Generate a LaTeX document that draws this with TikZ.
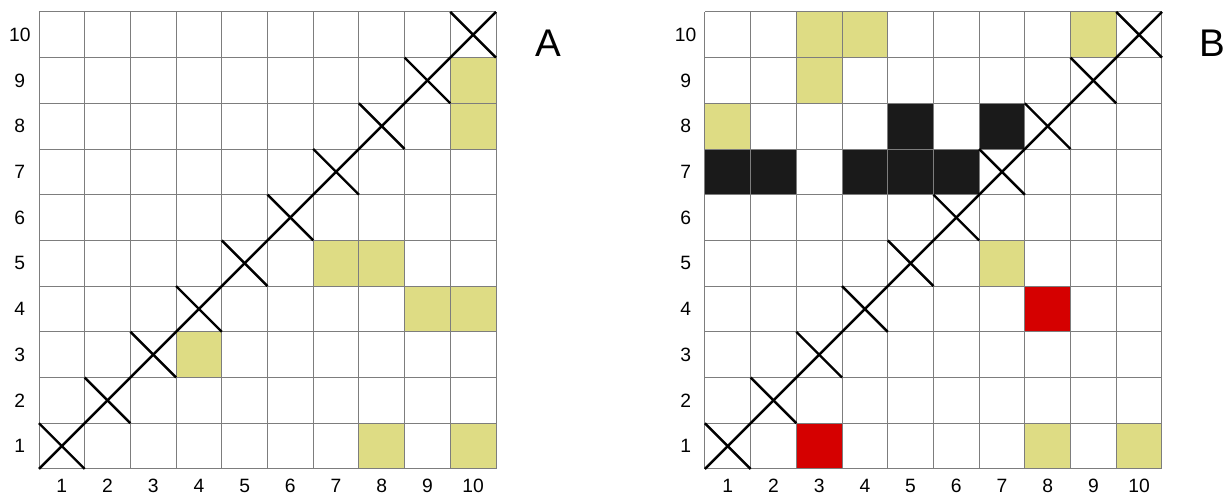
\documentclass[tikz,border=0pt]{standalone}
\usepackage{fontspec}
\setmainfont{Liberation Sans}
\usepackage{tikz}

\definecolor{cellyellow}{RGB}{222,220,132}
\definecolor{cellred}{RGB}{213,0,0}
\definecolor{cellblack}{RGB}{26,26,26}
\definecolor{gridgray}{RGB}{125,125,125}

\tikzset{
  gridline/.style={draw=gridgray,line width=0.6pt},
  crossline/.style={draw=black,line width=1.5pt},
  numlabel/.style={font=\fontsize{12}{13}\selectfont,inner sep=0pt},
  panellabel/.style={font=\fontsize{24}{28}\selectfont,inner sep=0pt}
}

\begin{document}
\begin{tikzpicture}
\useasboundingbox (-0.853,-0.547) rectangle (25.95,10.26);
\begin{scope}
\foreach \c/\r in {10/9,10/8,7/5,8/5,9/4,10/4,4/3,8/1,10/1}
  \fill[cellyellow] (\c-1,\r-1) rectangle (\c,\r);
\draw[gridline] (0,0) grid (10,10);
\draw[crossline] (0,0) -- (10,10);
\foreach \i in {1,...,10}
  \draw[crossline] (\i-1,\i) -- (\i,\i-1);
\foreach \i in {1,...,10} {
  \node[numlabel] (rowA\i) at (-0.42,\i-0.5) {\i};
  \node[numlabel] (colA\i) at (\i-0.5,-0.37) {\i};
}
\node[panellabel] (labA) at (11.14,9.32) {A};
\end{scope}
\begin{scope}[xshift=14.57cm]
\foreach \c/\r in {3/10,4/10,9/10,3/9,1/8,7/5,8/1,10/1}
  \fill[cellyellow] (\c-1,\r-1) rectangle (\c,\r);
\foreach \c/\r in {5/8,7/8,1/7,2/7,4/7,5/7,6/7}
  \fill[cellblack] (\c-1,\r-1) rectangle (\c,\r);
\foreach \c/\r in {8/4,3/1}
  \fill[cellred] (\c-1,\r-1) rectangle (\c,\r);
\draw[gridline] (0,0) grid (10,10);
\draw[crossline] (0,0) -- (10,10);
\foreach \i in {1,...,10}
  \draw[crossline] (\i-1,\i) -- (\i,\i-1);
\foreach \i in {1,...,10} {
  \node[numlabel] (rowB\i) at (-0.42,\i-0.5) {\i};
  \node[numlabel] (colB\i) at (\i-0.5,-0.37) {\i};
}
\node[panellabel] (labB) at (11.10,9.32) {B};
\end{scope}
\end{tikzpicture}
\end{document}
